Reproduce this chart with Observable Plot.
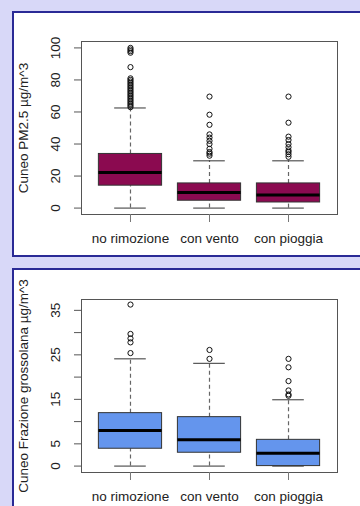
<!DOCTYPE html>
<html>
<head>
<meta charset="utf-8">
<script src="https://cdn.jsdelivr.net/npm/d3@7"></script>
<script src="https://cdn.jsdelivr.net/npm/@observablehq/plot@0.6"></script>
<style>
  html, body { margin: 0; padding: 0; width: 360px; height: 506px; overflow: hidden; background: #d8d8f8; }
  .panel { position: absolute; left: 12px; width: 348px; background: #fff; border-left: 2px solid #2a2a96; border-top: 2px solid #2a2a96; border-bottom: 2px solid #2a2a96; box-sizing: border-box; }
  #p1 { top: 11px; height: 246px; }
  #p2 { top: 268px; height: 250px; }
  .panel svg { display: block; overflow: visible; }
</style>
</head>
<body>
<div class="panel" id="p1"></div>
<div class="panel" id="p2"></div>
<script>
const categories = ["no rimozione", "con vento", "con pioggia"];

// Panel 1: Cuneo PM2.5
const pmTitle = "Cuneo PM2.5 µg/m^3";
const pmTicks = [0, 20, 40, 60, 80, 100];
const pmLabeled = [0, 20, 40, 60, 80, 100];
const pmLo = [0, 0, 0];
const pmQ1 = [14, 4.6, 3.5];
const pmMed = [22.2, 9.8, 8.1];
const pmQ3 = [33.8, 15.4, 15.4];
const pmHi = [62.5, 29.5, 29.5];
const pmOut = [
  [63, 64, 65, 66, 67, 68, 69, 70, 71, 72, 73, 74, 75, 76, 77, 78, 79, 80, 81, 88, 97, 98, 99, 100],
  [32.7, 34, 35, 37, 40, 42, 44, 46, 52, 58.3, 69.6],
  [32, 33.6, 35, 36, 38, 40, 42.5, 44.6, 53.3, 69.6]
];

// Panel 2: Cuneo Frazione grossolana
const crTitle = "Cuneo Frazione grossolana µg/m^3";
const crTicks = [0, 5, 10, 15, 20, 25, 30, 35];
const crLabeled = [0, 5, 15, 25, 35];
const crLo = [0, 0, 0];
const crQ1 = [3.9, 3.0, 0];
const crMed = [8.0, 5.9, 2.9];
const crQ3 = [11.9, 11.0, 5.9];
const crHi = [24.1, 23.1, 14.9];
const crOut = [
  [25.4, 27.8, 28.7, 29.7, 36.3],
  [24.1, 26.1],
  [15.8, 16.1, 17.0, 19.1, 22.2, 24.1]
];

function boxChart({title, ticks, labeled, lo, q1, med, q3, hi, out, fill, yDomain, height, marginTop, marginBottom}) {
  const boxes = categories.map((c, i) => ({i: i + 1, c, lo: lo[i], q1: q1[i], med: med[i], q3: q3[i], hi: hi[i]}));
  const outliers = out.flatMap((arr, i) => arr.map(v => ({i: i + 1, v})));
  const fs = 13.5;
  return Plot.plot({
    width: 346,
    height,
    marginLeft: 67,
    marginRight: 23,
    marginTop,
    marginBottom,
    style: {background: "white", fontFamily: "'Liberation Sans', Arial, sans-serif", fontSize: fs + "px", color: "#222", overflow: "visible"},
    x: {domain: [0.38, 3.62], axis: null, label: null},
    y: {domain: yDomain, axis: null, label: null},
    marks: [
      // whiskers (dashed)
      Plot.ruleX(boxes, {x: "i", y1: "q3", y2: "hi", stroke: "#666", strokeDasharray: "4,3", strokeWidth: 1.2}),
      Plot.ruleX(boxes, {x: "i", y1: "lo", y2: "q1", stroke: "#666", strokeDasharray: "4,3", strokeWidth: 1.2}),
      // whisker caps
      Plot.ruleY(boxes, {y: "hi", x1: d => d.i - 0.2, x2: d => d.i + 0.2, stroke: "#333", strokeWidth: 1}),
      Plot.ruleY(boxes, {y: "lo", x1: d => d.i - 0.2, x2: d => d.i + 0.2, stroke: "#333", strokeWidth: 1}),
      // boxes
      Plot.rect(boxes, {x1: d => d.i - 0.4, x2: d => d.i + 0.4, y1: "q1", y2: "q3", fill, stroke: "#333", strokeWidth: 1}),
      // medians
      Plot.ruleY(boxes, {y: "med", x1: d => d.i - 0.4, x2: d => d.i + 0.4, stroke: "#000", strokeWidth: 3}),
      // outliers
      Plot.dot(outliers, {x: "i", y: "v", r: 2.6, stroke: "#111", fill: "none", strokeWidth: 1}),
      // frame
      Plot.frame({stroke: "#555"}),
      // y axis ticks
      Plot.axisY({ticks, tickSize: 7, tickFormat: () => "", stroke: "#555", label: null}),
      Plot.text(ticks.filter(t => labeled.includes(t)), {y: d => d, text: d => String(d), frameAnchor: "left", textAnchor: "middle", lineAnchor: "middle", dx: -26, rotate: -90, fontSize: fs, fill: "#222"}),
      Plot.text([title], {text: d => d, frameAnchor: "left", textAnchor: "middle", lineAnchor: "middle", dx: -58, rotate: -90, fontSize: fs, fill: "#222"}),
      // x axis
      Plot.axisX({ticks: [1, 2, 3], tickSize: 8, tickPadding: 11, tickFormat: i => categories[i - 1], stroke: "#777", fill: "#222", fontSize: fs, label: null})
    ]
  });
}

document.getElementById("p1").appendChild(boxChart({
  title: pmTitle, ticks: pmTicks, labeled: pmLabeled, lo: pmLo, q1: pmQ1, med: pmMed, q3: pmQ3, hi: pmHi, out: pmOut,
  fill: "#8b0a50", yDomain: [-4, 104], height: 242, marginTop: 28, marginBottom: 41
}));
document.getElementById("p2").appendChild(boxChart({
  title: crTitle, ticks: crTicks, labeled: crLabeled, lo: crLo, q1: crQ1, med: crMed, q3: crQ3, hi: crHi, out: crOut,
  fill: "#6495ed", yDomain: [-1.44, 37.44], height: 236, marginTop: 29, marginBottom: 34
}));
</script>
</body>
</html>
